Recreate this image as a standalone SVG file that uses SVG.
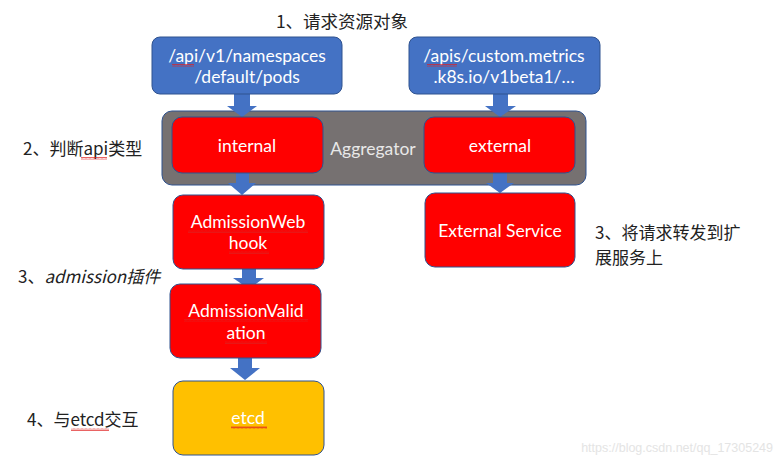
<svg xmlns="http://www.w3.org/2000/svg" width="784" height="457" viewBox="0 0 784 457">
<defs>
<style>
text{font-family:"Noto Sans CJK SC","Noto Sans","Liberation Sans",sans-serif;}
.lbl{font-size:17px;fill:#222;}
.wt{font-family:Lato,"Noto Sans","Noto Sans CJK SC",sans-serif;font-size:17.5px;fill:#fff;text-anchor:middle;}
.blue{fill:#4472C4;stroke:#2F528F;stroke-width:1;}
.red{fill:#FF0000;stroke:#2F528F;stroke-width:1;}
.arrow{fill:#4472C4;}
.sq{fill:url(#squig);}
</style>
<pattern id="squig" width="4" height="3" patternUnits="userSpaceOnUse">
<path d="M0,2.5 L1,0.5 L2,2.5 L3,0.5 L4,2.5" fill="none" stroke="#E02020" stroke-width="0.7"/>
</pattern>
</defs>
<rect width="784" height="457" fill="#fff"/>

<g id="labels">
<text class="lbl" x="342" y="28" text-anchor="middle" style="font-size:17.5px">1、请求资源对象</text>
<text class="lbl" x="23" y="155">2、判断api类型</text>
<rect class="sq" x="81" y="157" width="26" height="3"/>
<text class="lbl" x="18" y="283">3、<tspan font-style="italic">admission插件</tspan></text>
<text class="lbl" x="27" y="426">4、与etcd交互</text>
<rect class="sq" x="71" y="428" width="38" height="3"/>
<text class="lbl" x="595" y="239">3、将请求转发到扩</text>
<text class="lbl" x="595" y="264">展服务上</text>
</g>

<g id="aggregator">
<rect x="162" y="111" width="424" height="74" rx="10" fill="#767171" stroke="#2F528F" stroke-width="1"/>
<text x="373" y="155" style="font-family:Lato,'Noto Sans',sans-serif;font-size:17.5px;fill:#e8e8e8;text-anchor:middle">Aggregator</text>
</g>

<g id="connectors">
<polygon class="arrow" points="234,94 250,94 250,106 257,106 242,117 227,106 234,106"/>
<polygon class="arrow" points="493,94 508,94 508,106 516,106 500,117 485,106 493,106"/>
<polygon class="arrow" points="236,173 249,173 249,183 256,183 242,195 228,183 236,183"/>
<polygon class="arrow" points="493,173 507,173 507,183 514,183 500,193 486,183 493,183"/>
<polygon class="arrow" points="242,269 256,269 256,278 264,278 249,289 233,278 242,278"/>
<polygon class="arrow" points="238,358 252,358 252,368 260,368 245,380 230,368 238,368"/>
</g>

<g id="node-api">
<rect class="blue" x="152" y="37" width="190" height="57" rx="8"/>
<text class="wt" x="247" y="62">/api/v1/namespaces</text>
<text class="wt" x="247" y="83">/default/pods</text>
<rect class="sq" x="172" y="64" width="22" height="3"/>
</g>

<g id="node-apis">
<rect class="blue" x="409" y="37" width="191" height="57" rx="8"/>
<text class="wt" x="504" y="62">/apis/custom.metrics</text>
<text class="wt" x="504" y="83">.k8s.io/v1beta1/…</text>
<rect class="sq" x="427" y="64" width="30" height="3"/>
</g>

<g id="node-internal">
<rect class="red" x="172" y="117" width="151" height="56" rx="10"/>
<text class="wt" x="247" y="152">internal</text>
</g>

<g id="node-external">
<rect class="red" x="424" y="117" width="151" height="56" rx="10"/>
<text class="wt" x="500" y="152">external</text>
</g>

<g id="node-webhook">
<rect class="red" x="173" y="195" width="151" height="74" rx="10"/>
<text class="wt" x="248" y="228">AdmissionWeb</text>
<text class="wt" x="248" y="249">hook</text>
<rect class="sq" x="188" y="230" width="120" height="3"/>
<rect class="sq" x="229" y="251" width="40" height="3"/>
</g>

<g id="node-validation">
<rect class="red" x="170" y="284" width="151" height="74" rx="10"/>
<text class="wt" x="246" y="317">AdmissionValid</text>
<text class="wt" x="246" y="339">ation</text>
<rect class="sq" x="184" y="319" width="124" height="3"/>
<rect class="sq" x="225" y="341" width="42" height="3"/>
</g>

<g id="node-etcd">
<rect x="173" y="381" width="151" height="74" rx="10" fill="#FFC000" stroke="#2F528F" stroke-width="1"/>
<text class="wt" x="248" y="424">etcd</text>
<rect class="sq" x="231" y="426" width="36" height="3"/>
</g>

<g id="node-external-service">
<rect class="red" x="425" y="193" width="150" height="74" rx="10"/>
<text class="wt" x="500" y="237">External Service</text>
</g>

<text x="773" y="452" text-anchor="end" style="font-family:'Liberation Sans',sans-serif;font-size:12.5px;fill:#e4e4e4">https://blog.csdn.net/qq_17305249</text>
</svg>
